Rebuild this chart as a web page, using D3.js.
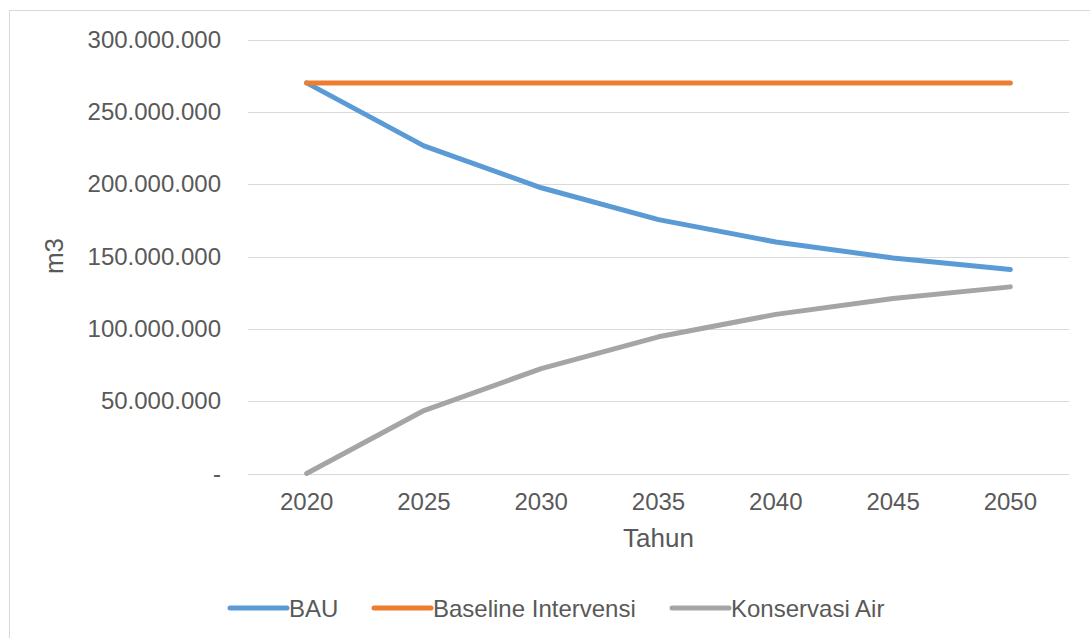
<!DOCTYPE html>
<html>
<head>
<meta charset="utf-8">
<script src="https://cdn.jsdelivr.net/npm/d3@7/dist/d3.min.js"></script>
<style>
  html, body { margin: 0; padding: 0; background: #ffffff; }
  svg { display: block; }
  text { font-family: "Liberation Sans", Arial, sans-serif; fill: #595959; }
</style>
</head>
<body>
<svg id="chart" width="1090" height="638"></svg>
<script>
// Water volume (m3) per scenario, 2020–2050
const years = ["2020", "2025", "2030", "2035", "2040", "2045", "2050"];
const bau = [270000000, 226500000, 197500000, 175500000, 160000000, 149000000, 141000000];
const baselineIntervensi = [270000000, 270000000, 270000000, 270000000, 270000000, 270000000, 270000000];
const konservasiAir = [0, 43500000, 72500000, 94500000, 110000000, 121000000, 129000000];
const yTicks = [0, 50000000, 100000000, 150000000, 200000000, 250000000, 300000000];

const seriesList = [
  { name: "BAU", values: bau, color: "#5B9BD5" },
  { name: "Baseline Intervensi", values: baselineIntervensi, color: "#ED7D31" },
  { name: "Konservasi Air", values: konservasiAir, color: "#A5A5A5" }
];

const svg = d3.select("#chart");
const W = 1090, H = 638;
const plot = { left: 248, right: 1069, top: 39.5, bottom: 473.5 };

// outer chart frame
svg.append("rect")
  .attr("x", 9.5).attr("y", 10.5)
  .attr("width", W).attr("height", H)
  .attr("fill", "#ffffff")
  .attr("stroke", "#D9D9D9").attr("stroke-width", 1);

const x = d3.scaleBand().domain(years).range([plot.left, plot.right]);
const y = d3.scaleLinear().domain([0, 300000000]).range([plot.bottom, plot.top]);

const idLocale = d3.formatLocale({ decimal: ",", thousands: ".", grouping: [3], currency: ["Rp", ""] });
const fmt = idLocale.format(",");

// horizontal gridlines
svg.append("g")
  .selectAll("line")
  .data(yTicks)
  .join("line")
  .attr("x1", plot.left).attr("x2", plot.right)
  .attr("y1", d => Math.round(y(d)) + 0.5)
  .attr("y2", d => Math.round(y(d)) + 0.5)
  .attr("stroke", "#D9D9D9").attr("stroke-width", 1.2);

// y axis labels
const yAxis = d3.axisLeft(y)
  .tickValues(yTicks)
  .tickSize(0)
  .tickPadding(27)
  .tickFormat(d => d === 0 ? "-" : fmt(d));
const gy = svg.append("g").attr("transform", `translate(${plot.left},0)`).call(yAxis);
gy.select(".domain").remove();
gy.selectAll("text")
  .attr("font-size", 24)
  .attr("font-family", "Liberation Sans, Arial, sans-serif")
  .attr("fill", "#595959");

// x axis labels
const xAxis = d3.axisBottom(x).tickSize(0).tickPadding(19);
const gx = svg.append("g").attr("transform", `translate(0,${plot.bottom})`).call(xAxis);
gx.select(".domain").remove();
gx.selectAll("text")
  .attr("font-size", 24)
  .attr("font-family", "Liberation Sans, Arial, sans-serif")
  .attr("fill", "#595959");

// axis titles
svg.append("text")
  .attr("x", (plot.left + plot.right) / 2)
  .attr("y", 547)
  .attr("text-anchor", "middle")
  .attr("font-size", 26)
  .text("Tahun");

svg.append("text")
  .attr("transform", "translate(63,256) rotate(-90)")
  .attr("text-anchor", "middle")
  .attr("font-size", 26)
  .text("m3");

// series lines
const line = d3.line()
  .x((d, i) => x(years[i]) + x.bandwidth() / 2)
  .y(d => y(d));

svg.append("g")
  .selectAll("path")
  .data(seriesList)
  .join("path")
  .attr("d", s => line(s.values))
  .attr("fill", "none")
  .attr("stroke", s => s.color)
  .attr("stroke-width", 5)
  .attr("stroke-linecap", "round")
  .attr("stroke-linejoin", "round");

// legend
const legendX = [230, 374, 672];
const legend = svg.append("g")
  .selectAll("g")
  .data(seriesList)
  .join("g")
  .attr("transform", (s, i) => `translate(${legendX[i]},608)`);
legend.append("line")
  .attr("x1", 0).attr("x2", 57)
  .attr("y1", 0).attr("y2", 0)
  .attr("stroke", s => s.color)
  .attr("stroke-width", 5)
  .attr("stroke-linecap", "round");
legend.append("text")
  .attr("x", 59)
  .attr("y", 8.7)
  .attr("font-size", 24)
  .text(s => s.name);
</script>
</body>
</html>
